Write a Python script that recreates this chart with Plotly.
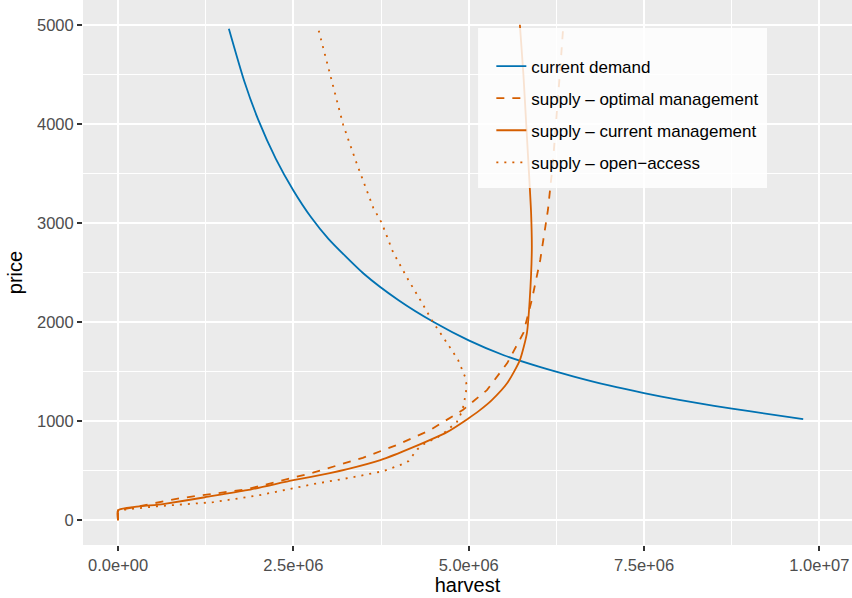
import plotly.graph_objects as go

# ---- data -----------------------------------------------------------------
demand_q = [1.58e6, 1.8e6, 2.0e6, 2.25e6, 2.5e6, 2.75e6, 3.0e6, 3.5e6, 4.0e6,
            4.5e6, 5.0e6, 5.5e6, 6.0e6, 6.5e6, 7.0e6, 7.5e6, 8.0e6, 8.5e6,
            9.0e6, 9.77e6]
demand_p = [4960, 4430, 4040, 3647, 3328, 3060, 2840, 2490, 2220,
            2000, 1815, 1665, 1550, 1450, 1360, 1283, 1215, 1155,
            1100, 1020]

optimal_q = [0, 0, 0.88e6, 1.84e6, 2.5e6, 2.78e6, 3.49e6, 3.98e6, 4.45e6,
             4.92e6, 5.26e6, 5.55e6, 5.78e6, 5.9e6, 6.02e6, 6.13e6, 6.2e6,
             6.26e6, 6.31e6, 6.35e6]
optimal_p = [0, 100, 222, 313, 430, 480, 630, 760, 909,
             1115, 1313, 1586, 1889, 2222, 2626, 3131, 3600,
             4100, 4600, 5000]

current_q = [0, 0, 0.64e6, 1.24e6, 1.84e6, 2.5e6, 3.02e6, 3.27e6, 3.74e6,
             4.21e6, 4.69e6, 4.98e6, 5.16e6, 5.33e6, 5.55e6, 5.73e6, 5.83e6,
             5.87e6, 5.9e6, 5.89e6, 5.86e6, 5.82e6, 5.78e6, 5.73e6]
current_p = [0, 100, 162, 232, 303, 404, 475, 515, 606,
             737, 889, 1020, 1111, 1212, 1384, 1616, 1889,
             2222, 2727, 3100, 3500, 4000, 4500, 5000]

open_q = [0, 0, 0.56e6, 1.36e6, 2.02e6, 2.78e6, 3.35e6, 3.78e6, 4.02e6,
          4.14e6, 4.27e6, 4.38e6, 4.56e6, 4.66e6, 4.83e6, 4.91e6, 4.96e6,
          4.97e6, 4.95e6, 4.85e6, 4.73e6, 4.59e6, 4.49e6, 4.31e6, 4.14e6,
          3.92e6, 3.76e6, 3.64e6, 3.41e6, 3.21e6, 3.02e6, 2.84e6]
open_p = [0, 100, 141, 182, 253, 364, 434, 495, 556,
          596, 717, 778, 838, 889, 990, 1105, 1283,
          1364, 1444, 1616, 1747, 1889, 2000, 2222, 2424,
          2707, 3000, 3152, 3586, 3990, 4495, 5000]

x_ticks = [0, 2.5e6, 5.0e6, 7.5e6, 1.0e7]
x_tick_text = ["0.0e+00", "2.5e+06", "5.0e+06", "7.5e+06", "1.0e+07"]
x_minor = [1.25e6, 3.75e6, 6.25e6, 8.75e6]
y_ticks = [0, 1000, 2000, 3000, 4000, 5000]
y_minor = [500, 1500, 2500, 3500, 4500]

series_names = ["current demand", "supply \u2013 optimal management",
                "supply \u2013 current management", "supply \u2013 open\u2212access"]

BLUE = "#0072B2"
ORANGE = "#D55E00"
FONT = "Liberation Sans, Arial, sans-serif"

# ---- figure -----------------------------------------------------------------
fig = go.Figure()
traces = [
    (demand_q, demand_p, BLUE, "solid", "spline"),
    (optimal_q, optimal_p, ORANGE, "8px,8px", "linear"),
    (current_q, current_p, ORANGE, "solid", "spline"),
    (open_q, open_p, ORANGE, "2px,6px", "linear"),
]
for i, (q, p, col, dash, shape) in enumerate(traces):
    fig.add_trace(go.Scatter(
        x=q, y=p, mode="lines", name=series_names[i],
        legendgroup=f"g{i}",
        line=dict(color=col, width=1.8, dash=dash, shape=shape, smoothing=0.6),
    ))

# semi-transparent legend panel
fig.add_shape(type="rect", xref="paper", yref="paper",
              x0=0.5137, x1=0.8895, y0=0.655, y1=0.9486,
              fillcolor="rgba(255,255,255,0.82)", line=dict(width=0),
              layer="above")

axis_common = dict(
    showgrid=True, gridcolor="white", gridwidth=1.8,
    zeroline=False, showline=False,
    ticks="outside", ticklen=5, tickwidth=1.6, tickcolor="#333333",
    tickfont=dict(family=FONT, size=16.5, color="#4D4D4D"),
    automargin=False,
)

fig.update_layout(
    width=852, height=598,
    margin=dict(l=83, r=0, t=0, b=53),
    paper_bgcolor="white",
    plot_bgcolor="#EBEBEB",
    font=dict(family=FONT, color="black"),
    xaxis=dict(
        range=[-0.5e6, 10.466e6],
        tickmode="array", tickvals=x_ticks, ticktext=x_tick_text,
        minor=dict(tickmode="array", tickvals=x_minor, showgrid=True,
                   gridcolor="white", gridwidth=0.9, ticks=""),
        title=dict(text="harvest", font=dict(family=FONT, size=20), standoff=4),
        **axis_common,
    ),
    yaxis=dict(
        range=[-250, 5250],
        tickmode="array", tickvals=y_ticks,
        minor=dict(tickmode="array", tickvals=y_minor, showgrid=True,
                   gridcolor="white", gridwidth=0.9, ticks=""),
        title=dict(text="price", font=dict(family=FONT, size=20), standoff=8),
        **axis_common,
    ),
    legend=dict(
        x=0.531, y=0.911, xanchor="left", yanchor="top",
        bgcolor="rgba(0,0,0,0)", borderwidth=0,
        font=dict(family=FONT, size=17, color="black"),
        tracegroupgap=7, itemwidth=30,
    ),
    showlegend=True,
)

fig.write_html("out.html")
